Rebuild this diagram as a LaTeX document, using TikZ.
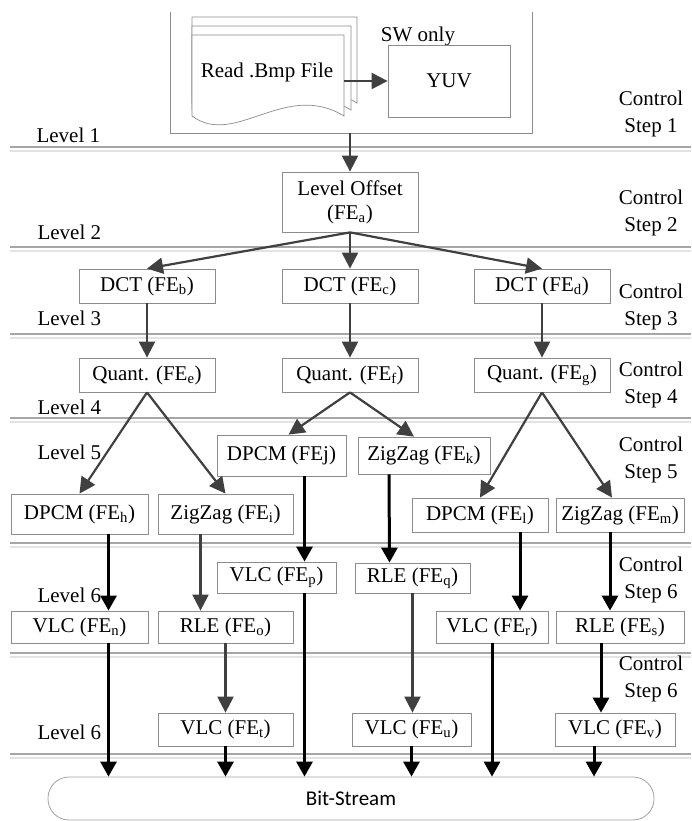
\documentclass[tikz,border=0pt]{standalone}
\usepackage{fontspec}
\setmainfont{Liberation Serif}
\newfontfamily\streamfont{Carlito}
\usetikzlibrary{arrows.meta}
\definecolor{boxGray}{HTML}{8C8C8C}
\definecolor{arrowGray}{HTML}{404040}
\definecolor{lineGray}{HTML}{A6A6A6}
\definecolor{lineFaint}{HTML}{E3E3E3}
\newcommand{\fe}[1]{FE\textsubscript{#1}}

\begin{document}
\begin{tikzpicture}[x=1pt,y=-1pt,
  every node/.style={font=\fontsize{21}{27}\selectfont},
  box/.style={draw=boxGray,line width=0.8pt,fill=white,inner sep=0pt,align=center,
    font=\fontsize{21}{24}\selectfont},
  flow/.style={-{Triangle[length=16pt,width=16pt]},line width=2.2pt,arrowGray},
  heavy/.style={-{Triangle[length=15pt,width=16pt]},line width=3pt,black},
  levelline/.style={lineGray,line width=1.3pt},
  lbl/.style={anchor=west},
  ctrl/.style={align=center},
  page/.style={draw=boxGray,line width=0.7pt,fill=white}]

  \useasboundingbox (0,0) rectangle (691,821);

  \foreach \y in {147,247,334,418,543,653,754} {
    \draw[levelline] (10,\y) -- (691,\y);
    \draw[lineFaint,line width=1.2pt] (10,\y+4) -- (691,\y+4);
  }

  \draw[boxGray,line width=0.8pt] (170,12) -- (170,133) -- (532,133) -- (532,12);
  \coordinate (frame) at (350,133);

  \draw[page] (192,17) -- (357,17) -- (357,103) .. controls (298,67) and (245,135) .. (192,103) -- cycle;
  \draw[page] (192,26) -- (351,26) -- (351,110) .. controls (292,74) and (240,142) .. (192,110) -- cycle;
  \draw[page] (192,35) -- (344,35) -- (344,116) .. controls (285,80) and (235,148) .. (192,116) -- cycle;
  \node (bmp) at (267,72) {Read .Bmp File};
  \coordinate (bmpout) at (344,81);

  \node (swonly) at (418,36) {SW only};
  \node[box,minimum width=122,minimum height=72] (yuv) at (449,81) {YUV};

  \node[box,minimum width=136,minimum height=60] (lvoff) at (350,202) {Level Offset\\(\fe{a})};

  \node[box,minimum width=136,minimum height=34] (dctb) at (147,286) {DCT (\fe{b})};
  \node[box,minimum width=136,minimum height=34] (dctc) at (350,286) {DCT (\fe{c})};
  \node[box,minimum width=136,minimum height=34] (dctd) at (542,286) {DCT (\fe{d})};

  \node[box,minimum width=136,minimum height=34] (quante) at (147,375) {Quant. (\fe{e})};
  \node[box,minimum width=136,minimum height=34] (quantf) at (350,375) {Quant. (\fe{f})};
  \node[box,minimum width=136,minimum height=34] (quantg) at (542,375) {Quant. (\fe{g})};

  \node[box,minimum width=129,minimum height=41] (dpcmj) at (281.5,455.5) {DPCM (FEj)};
  \node[box,minimum width=132,minimum height=37] (zigk) at (424,455.5) {ZigZag (\fe{k})};

  \node[box,minimum width=137,minimum height=40] (dpcmh) at (79.5,514) {DPCM (\fe{h})};
  \node[box,minimum width=135,minimum height=40] (zigi) at (225.5,514) {ZigZag (\fe{i})};
  \node[box,minimum width=136,minimum height=34] (dpcml) at (480,515) {DPCM (\fe{l})};
  \node[box,minimum width=128,minimum height=34] (zigm) at (620,515) {ZigZag (\fe{m})};

  \node[box,minimum width=119,minimum height=31] (vlcp) at (276.5,577.5) {VLC (\fe{p})};
  \node[box,minimum width=115,minimum height=30] (rleq) at (412.5,578) {RLE (\fe{q})};

  \node[box,minimum width=137,minimum height=32] (vlcn) at (79.5,627) {VLC (\fe{n})};
  \node[box,minimum width=135,minimum height=32] (rleo) at (225.5,627) {RLE (\fe{o})};
  \node[box,minimum width=112,minimum height=32] (vlcr) at (492,627) {VLC (\fe{r})};
  \node[box,minimum width=128,minimum height=32] (rles) at (620,627) {RLE (\fe{s})};

  \node[box,minimum width=135,minimum height=33] (vlct) at (225.5,729.5) {VLC (\fe{t})};
  \node[box,minimum width=119,minimum height=33] (vlcu) at (411.5,729.5) {VLC (\fe{u})};
  \node[box,minimum width=120,minimum height=33] (vlcv) at (615,729.5) {VLC (\fe{v})};

  \node[box,draw=boxGray!80,rounded corners=21pt,minimum width=606,minimum height=43,
    font=\streamfont\fontsize{21}{24}\selectfont] (bits) at (351,798.5) {Bit-Stream};

  \node[lbl] (lv1) at (33,135) {Level 1};
  \node[lbl] (lv2) at (34,232) {Level 2};
  \node[lbl] (lv3) at (34,318) {Level 3};
  \node[lbl] (lv4) at (34,407) {Level 4};
  \node[lbl] (lv5) at (34,452) {Level 5};
  \node[lbl] (lv6) at (34,595) {Level 6};
  \node[lbl] (lv6b) at (34,732) {Level 6};

  \node[ctrl] (cs1) at (651,114) {Control\\Step 1};
  \node[ctrl] (cs2) at (651,213) {Control\\Step 2};
  \node[ctrl] (cs3) at (651,307) {Control\\Step 3};
  \node[ctrl] (cs4) at (651,385) {Control\\Step 4};
  \node[ctrl] (cs5) at (651,459.5) {Control\\Step 5};
  \node[ctrl] (cs6) at (651,580) {Control\\Step 6};
  \node[ctrl] (cs6b) at (651,678.5) {Control\\Step 6};

  \draw[flow] (bmpout) -- (yuv);
  \draw[flow] (frame) -- (lvoff);
  \draw[flow] (lvoff.south) -- (dctb.north);
  \draw[flow] (lvoff.south) -- (dctc.north);
  \draw[flow] (lvoff.south) -- (dctd.north);
  \draw[flow] (dctb) -- (quante);
  \draw[flow] (dctc) -- (quantf);
  \draw[flow] (dctd) -- (quantg);
  \draw[flow] (quante.south) -- (dpcmh.north);
  \draw[flow] (quante.south) -- (zigi.north);
  \draw[flow] (quantf.south) -- ([xshift=7pt]dpcmj.north);
  \draw[flow] (quantf.south) -- ([xshift=-10pt]zigk.north);
  \draw[flow] (quantg.south) -- (dpcml.north);
  \draw[flow] (quantg.south) -- ([xshift=-8pt]zigm.north);
  \draw[flow] ([xshift=-25pt]zigi.south) -- ([xshift=-25pt]rleo.north);
  \draw[flow] (rleo) -- (vlct);
  \draw[flow] (rleq.south) -- (rleq.south |- vlcu.north);

  \draw[heavy] ([xshift=29pt]dpcmh.south) -- ([xshift=29pt]vlcn.north);
  \draw[heavy] ([xshift=23pt]dpcmj.south) -- ([xshift=28pt]vlcp.north);
  \draw[heavy] ([xshift=-35pt]zigk.south) -- ([xshift=-23pt]rleq.north);
  \draw[heavy] ([xshift=40pt]dpcml.south) -- ([xshift=28pt]vlcr.north);
  \draw[heavy] ([xshift=-10pt]zigm.south) -- ([xshift=-10pt]rles.north);
  \draw[heavy] ([xshift=-19pt]rles.south) -- ([xshift=-14pt]vlcv.north);

  \draw[heavy] ([xshift=29pt]vlcn.south) -- ([xshift=29pt]vlcn.south |- bits.north);
  \draw[heavy] (vlct.south) -- (vlct.south |- bits.north);
  \draw[heavy] ([xshift=28pt]vlcp.south) -- ([xshift=28pt]vlcp.south |- bits.north);
  \draw[heavy] (vlcu.south) -- (vlcu.south |- bits.north);
  \draw[heavy] (vlcr.south) -- (vlcr.south |- bits.north);
  \draw[heavy] ([xshift=-21pt]vlcv.south) -- ([xshift=-21pt]vlcv.south |- bits.north);
\end{tikzpicture}
\end{document}
